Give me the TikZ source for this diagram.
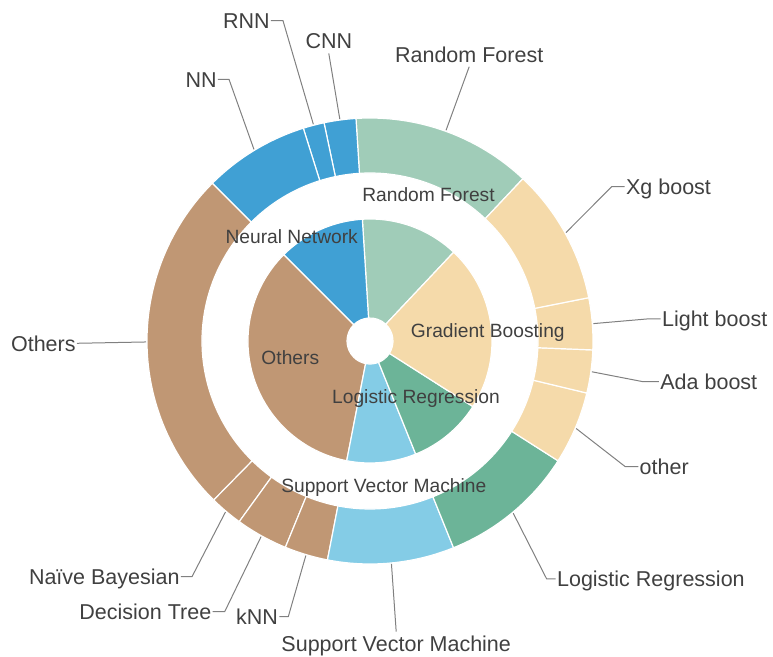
\documentclass[tikz,border=0pt]{standalone}
\usepackage{fontspec}
\setmainfont{Liberation Sans}
\definecolor{rfgreen}{HTML}{A0CCB8}
\definecolor{nnblue}{HTML}{40A0D4}
\definecolor{othbrown}{HTML}{C09774}
\definecolor{svmblue}{HTML}{84CCE6}
\definecolor{lrgreen}{HTML}{6CB498}
\definecolor{gbbeige}{HTML}{F5DAAA}
\definecolor{txtgray}{HTML}{404040}
\definecolor{leadgray}{HTML}{808080}
\tikzset{
  outlbl/.style={font=\fontsize{10.75}{13}\selectfont, text=txtgray, inner xsep=0.5pt, inner ysep=2pt, text height=7.74pt, text depth=0pt},
  inlbl/.style={font=\fontsize{9.6}{12}\selectfont, text=txtgray, inner sep=0pt, text height=6.9pt, text depth=0pt},
  leader/.style={draw=leadgray, line width=0.5pt},
  wedge/.style={draw=white, line width=0.6pt}
}

\begin{document}
\begin{tikzpicture}[x=0.5pt, y=0.5pt]
  \useasboundingbox (-370,-316) rectangle (403,341);
  % inner pie
  \foreach \a/\b/\c in {46.7/93.6/rfgreen, 93.6/135/nnblue, 135/259/othbrown,
                        259/292/svmblue, 292/327.5/lrgreen, 327.5/406.7/gbbeige} {
    \filldraw[wedge, fill=\c] (\a:23) arc[start angle=\a, end angle=\b, radius=23]
      -- (\b:122) arc[start angle=\b, end angle=\a, radius=122] -- cycle;
  }
  % outer ring
  \foreach \a/\b/\c in {46.7/93.6/rfgreen, 93.6/101.9/nnblue, 101.9/107.4/nnblue,
                        107.4/135/nnblue, 135/225.5/othbrown, 225.5/234.1/othbrown,
                        234.1/247.7/othbrown, 247.7/259/othbrown, 259/292/svmblue,
                        292/327.5/lrgreen, 327.5/346.5/gbbeige, 346.5/357.7/gbbeige,
                        357.7/371.2/gbbeige, 371.2/406.7/gbbeige} {
    \filldraw[wedge, fill=\c] (\a:168) arc[start angle=\a, end angle=\b, radius=168]
      -- (\b:223) arc[start angle=\b, end angle=\a, radius=223] -- cycle;
  }
  % inner labels
  \node[inlbl] (i-rf) at (58.5,146) {Random Forest};
  \node[inlbl] (i-nn) at (-78.3,104.3) {Neural Network};
  \node[inlbl] (i-gb) at (117.8,10.3) {Gradient Boosting};
  \node[inlbl] (i-oth) at (-79.7,-16.3) {Others};
  \node[inlbl] (i-lr) at (46,-55.7) {Logistic Regression};
  \node[inlbl] (i-svm) at (13.8,-144.7) {Support Vector Machine};
  % leader start points on the ring
  \foreach \n/\a in {rf/70.15, cnn/97.75, rnn/104.65, nn/121.2, oth/180.25,
                     nb/229.8, dt/240.9, knn/253.35, svm/275.5, lr/309.75,
                     other/337, ada/352.1, lgt/4.45, xg/28.95}
    \coordinate (p-\n) at (\a:224);
  % outer labels
  \node[outlbl, anchor=south] (l-rf) at (99.2,274.3) {Random Forest};
  \node[outlbl, anchor=south] (l-cnn) at (-41.2,287.6) {CNN};
  \node[outlbl, anchor=east] (l-rnn) at (-99,320.3) {RNN};
  \node[outlbl, anchor=east] (l-nn) at (-152,261.7) {NN};
  \node[outlbl, anchor=east] (l-oth) at (-293,-2.3) {Others};
  \node[outlbl, anchor=east] (l-nb) at (-189,-235.7) {Naïve Bayesian};
  \node[outlbl, anchor=east] (l-dt) at (-157.3,-270.7) {Decision Tree};
  \node[outlbl, anchor=east] (l-knn) at (-90.7,-275.7) {kNN};
  \node[outlbl, anchor=north] (l-svm) at (26.2,-290.6) {Support Vector Machine};
  \node[outlbl, anchor=west] (l-lr) at (185.7,-238) {Logistic Regression};
  \node[outlbl, anchor=west] (l-other) at (268.3,-125.7) {other};
  \node[outlbl, anchor=west] (l-ada) at (289,-40.7) {Ada boost};
  \node[outlbl, anchor=west] (l-lgt) at (290.7,22) {Light boost};
  \node[outlbl, anchor=west] (l-xg) at (254.7,154.3) {Xg boost};
  % leaders
  \draw[leader] (p-rf) -- (l-rf.south);
  \draw[leader] (p-cnn) -- (l-cnn.south);
  \draw[leader] (l-rnn.east) -- ++(12,0) -- (p-rnn);
  \draw[leader] (l-nn.east) -- ++(11,0) -- (p-nn);
  \draw[leader] (l-oth.east) -- (p-oth);
  \draw[leader] (l-nb.east) -- ++(11,0) -- (p-nb);
  \draw[leader] (l-dt.east) -- ++(12,0) -- (p-dt);
  \draw[leader] (l-knn.east) -- ++(9,0) -- (p-knn);
  \draw[leader] (p-svm) -- (l-svm.north);
  \draw[leader] (l-lr.west) -- ++(-9,0) -- (p-lr);
  \draw[leader] (l-other.west) -- ++(-13,0) -- (p-other);
  \draw[leader] (l-ada.west) -- ++(-16,0) -- (p-ada);
  \draw[leader] (l-lgt.west) -- ++(-14,0) -- (p-lgt);
  \draw[leader] (l-xg.west) -- ++(-13,0) -- (p-xg);
\end{tikzpicture}
\end{document}
